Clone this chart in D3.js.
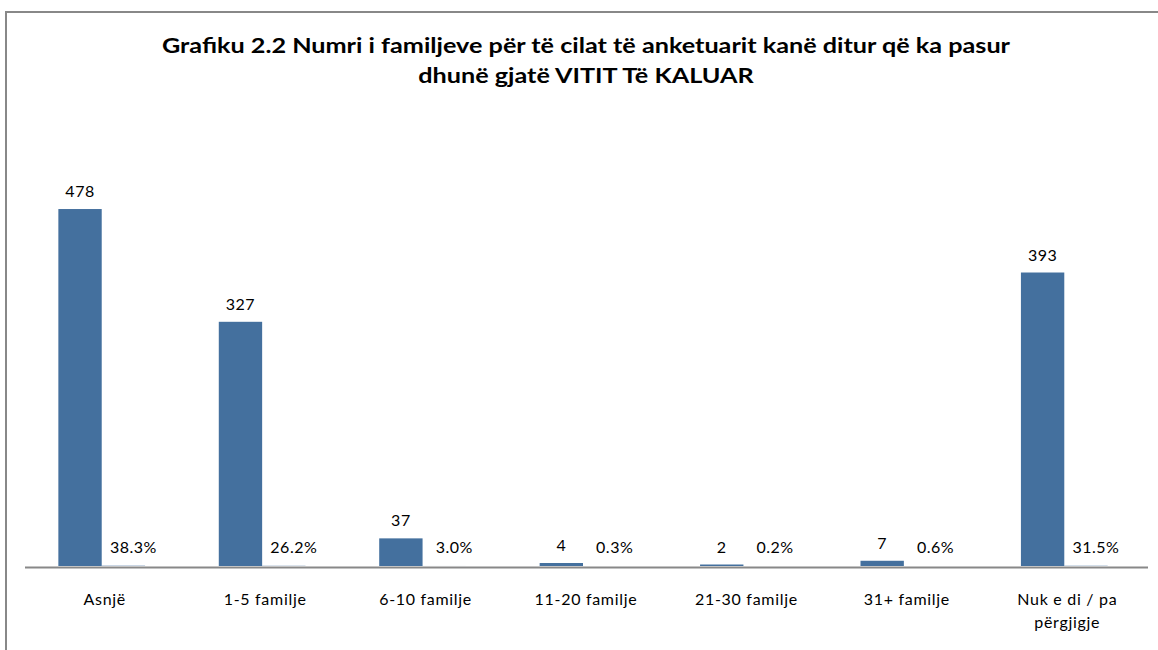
<!DOCTYPE html>
<html>
<head>
<meta charset="utf-8">
<script src="https://cdn.jsdelivr.net/npm/d3@7"></script>
<style>
  body { margin: 0; background: #fff; }
  text { font-family: Lato, "Open Sans", sans-serif; fill: #000; }
  .title { font-weight: bold; font-size: 21px; }
  .lbl { font-size: 16px; letter-spacing: 0.5px; }
  .axis text { font-size: 16px; letter-spacing: 0.7px; }
</style>
</head>
<body>
<div class="chart-div"></div>
<script>
// data
const categories = ["Asnjë", "1-5 familje", "6-10 familje", "11-20 familje", "21-30 familje", "31+ familje", "Nuk e di / pa përgjigje"];
const counts = [478, 327, 37, 4, 2, 7, 393];
const percents = [38.3, 26.2, 3.0, 0.3, 0.2, 0.6, 31.5];
const titleLines = ["Grafiku 2.2 Numri i familjeve për të cilat të anketuarit kanë ditur që ka pasur", "dhunë gjatë VITIT Të KALUAR"];

const svgWidth = 1158;
const svgHeight = 650;
const baseY = 566;

const svg = d3.select(".chart-div")
  .append("svg")
  .attr("width", svgWidth)
  .attr("height", svgHeight);

// outer chart border (right and bottom edges fall outside the picture)
svg.append("rect")
  .attr("x", 6)
  .attr("y", 12)
  .attr("width", svgWidth + 20)
  .attr("height", svgHeight + 20)
  .attr("fill", "none")
  .attr("stroke", "#888")
  .attr("stroke-width", 2);

// title, a bit wider than Lato to look like the condensed original
svg.append("g")
  .attr("transform", "translate(586,0) scale(1.2,1)")
  .append("text")
  .attr("class", "title")
  .attr("text-anchor", "middle")
  .selectAll("tspan")
  .data(titleLines)
  .join("tspan")
  .attr("x", 0)
  .attr("y", (d, i) => 53 + i * 30)
  .text(d => d);

// scales
const x = d3.scaleBand().domain(categories).range([21.5, 1144.5]).padding(0);
const x1 = d3.scaleBand().domain(["count", "pct"]).range([0, x.bandwidth()]).paddingInner(0).paddingOuter(0.85);
const y = d3.scaleLinear().domain([0, 500]).range([baseY, 192.6]);

const rows = categories.map((c, i) => ({ cat: c, count: counts[i], pct: percents[i] }));

const groups = svg.append("g")
  .selectAll("g")
  .data(rows)
  .join("g")
  .attr("transform", d => "translate(" + x(d.cat) + ",0)");

// count bars
groups.append("rect")
  .attr("x", x1("count"))
  .attr("width", x1.bandwidth())
  .attr("y", d => y(d.count))
  .attr("height", d => baseY - y(d.count))
  .attr("fill", "#44709e");

// percent bars (share of total, almost flat on this scale)
groups.append("rect")
  .attr("x", x1("pct"))
  .attr("width", x1.bandwidth())
  .attr("y", d => y(d.pct / 100))
  .attr("height", d => baseY - y(d.pct / 100))
  .attr("fill", "#44709e");

// value labels
groups.append("text")
  .attr("class", "lbl")
  .attr("text-anchor", "middle")
  .attr("x", x1("count") + x1.bandwidth() / 2)
  .attr("y", d => y(d.count) - 12)
  .text(d => d.count);

groups.append("text")
  .attr("class", "lbl")
  .attr("text-anchor", "middle")
  .attr("x", x1("pct") + x1.bandwidth() / 2 + 10)
  .attr("y", d => y(d.pct / 100) - 13)
  .text(d => d.pct.toFixed(1) + "%");

// x axis
const axis = svg.append("g")
  .attr("class", "axis")
  .attr("transform", "translate(3," + (baseY + 1) + ")")
  .call(d3.axisBottom(x).tickSize(0).tickSizeOuter(0).tickPadding(27));

axis.select(".domain").attr("stroke", "#888").attr("stroke-width", 2);
axis.selectAll("text").attr("fill", "#000").call(wrap, 120);

function wrap(sel, maxWidth) {
  sel.each(function() {
    const t = d3.select(this);
    const words = t.text().split(" ");
    const yy = t.attr("y");
    const dy = t.attr("dy");
    t.text(null);
    let line = [];
    let lineNo = 0;
    let tspan = t.append("tspan").attr("x", 0).attr("y", yy).attr("dy", dy);
    words.forEach(w => {
      line.push(w);
      tspan.text(line.join(" "));
      if (tspan.node().getComputedTextLength() > maxWidth && line.length > 1) {
        line.pop();
        tspan.text(line.join(" "));
        line = [w];
        lineNo++;
        tspan = t.append("tspan").attr("x", 0).attr("y", yy)
          .attr("dy", (lineNo * 23 + 0.71 * 16) + "px")
          .text(w);
      }
    });
  });
}
</script>
</body>
</html>
